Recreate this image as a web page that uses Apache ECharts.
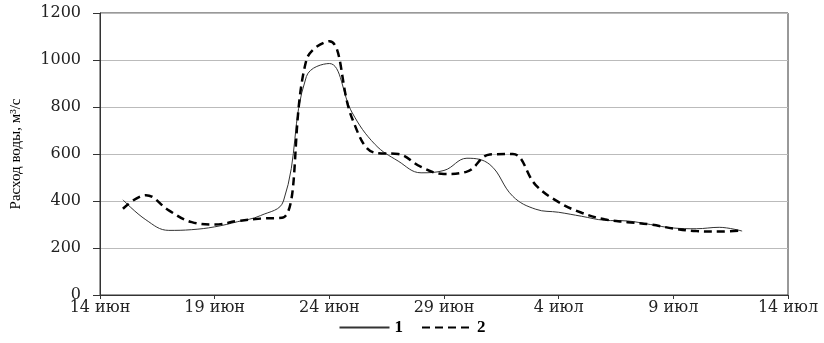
<!DOCTYPE html>
<html>
<head>
<meta charset="UTF-8">
<title></title>
<style>html,body{margin:0;padding:0;background:#fff;}#charts{width:824px;height:343px;}</style>
</head>
<body>
<div id="charts"></div>
<script src="https://cdn.jsdelivr.net/npm/echarts@6/dist/echarts.min.js"></script>
<script>
// дни от 14 июня
var days = [1,2,3,4,5,6,7,8,9,10,11,12,13,14,15,16,17,18,19,20,21,22,23,24,25,26,27,28];
var series1 = [405,320,275,278,290,312,338,400,930,985,775,640,570,520,530,582,555,420,365,352,335,318,315,300,285,282,288,272];
var series2 = [367,425,360,310,300,315,325,330,1000,1080,750,605,600,545,515,525,598,600,468,395,350,322,310,300,283,272,270,275];
var tickLabels = ['14 июн','19 июн','24 июн','29 июн','4 июл','9 июл','14 июл'];

var mycharts = echarts.init(document.getElementById('charts'));

function pairs(vals) {
    var res = [];
    for (var i = 0; i < days.length; i++) res.push([days[i], vals[i]]);
    return res;
}

var serif = 'DejaVu Serif';
option = {
    backgroundColor: '#fff',
    animation: false,
    grid: {
        left: 100, right: 36, top: 13, bottom: 48,
        show: true, borderColor: '#333', borderWidth: 1
    },
    legend: {
        bottom: 2, left: 'center',
        itemWidth: 50, itemHeight: 10, itemGap: 18,
        itemStyle: {opacity: 0},
        textStyle: {fontFamily: 'Liberation Serif', fontWeight: 'bold', fontSize: 17, color: '#000'},
        data: ['1', '2']
    },
    xAxis: {
        type: 'value', min: 0, max: 30, interval: 5,
        axisLine: {lineStyle: {color: '#333'}},
        axisTick: {length: 4, lineStyle: {color: '#333'}},
        splitLine: {show: false},
        axisLabel: {
            fontFamily: serif, fontSize: 16, color: '#222', margin: 5,
            formatter: function (v) { return tickLabels[v / 5]; }
        }
    },
    yAxis: {
        type: 'value', min: 0, max: 1200, interval: 200,
        name: 'Расход воды, м³/с', nameLocation: 'middle', nameGap: 76,
        nameTextStyle: {fontFamily: 'Liberation Serif', fontSize: 15, color: '#000'},
        axisLine: {show: true, lineStyle: {color: '#333'}},
        axisTick: {show: true, length: 7, lineStyle: {color: '#333'}},
        splitLine: {lineStyle: {color: '#bbb'}},
        axisLabel: {
            fontFamily: serif, fontSize: 16, color: '#222', margin: 19,
            formatter: function (v) { return String(v); }
        }
    },
    series: [
        {
            name: '1', type: 'line', data: pairs(series1),
            smooth: 0.4, showSymbol: false, symbol: 'none',
            lineStyle: {color: '#333', width: 1}, itemStyle: {color: '#333'}
        },
        {
            name: '2', type: 'line', data: pairs(series2),
            smooth: 0.4, showSymbol: false, symbol: 'none',
            lineStyle: {color: '#000', width: 2.5, type: [8, 5]}, itemStyle: {color: '#000'}
        }
    ]
};
mycharts.setOption(option);
</script>
</body>
</html>
